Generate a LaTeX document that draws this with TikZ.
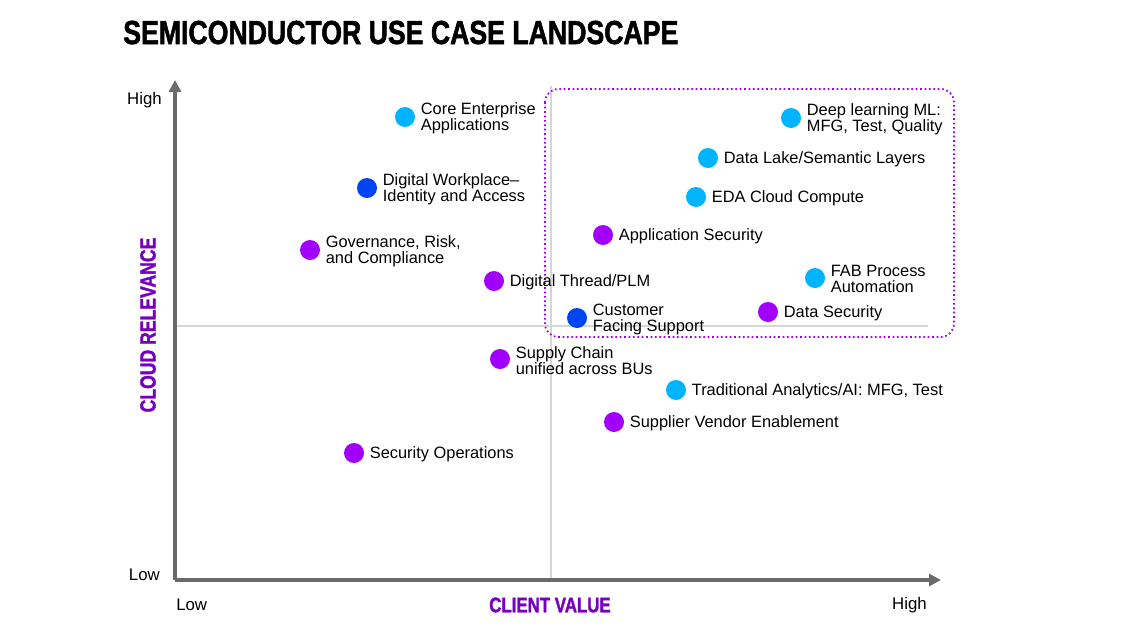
\documentclass[tikz,border=0pt]{standalone}
\usepackage{fontspec}
\setmainfont{Liberation Sans}
\newfontfamily\titlefont{Liberation Sans}[FakeStretch=0.80, BoldFeatures={FakeBold=1.5}]
\usepackage{tikz}
\usetikzlibrary{arrows.meta}
\definecolor{skyblue}{HTML}{00B4FF}
\definecolor{deepblue}{HTML}{0046F0}
\definecolor{violet}{HTML}{A100FF}
\definecolor{darkviolet}{HTML}{7500C0}
\definecolor{axisgrey}{HTML}{6A6A6A}
\definecolor{gridgrey}{HTML}{D6D6D6}
\tikzset{
    dot/.style={circle, fill, inner sep=0pt, minimum size=15}, % point of a use case
    usecase/.style={anchor=west, align=left, inner sep=0pt, font=\fontsize{12.3}{12}\selectfont}, % its label
    axis/.style={axisgrey, line width=2.6, -{Triangle[length=9, width=9]}},
    axislabel/.style={font=\fontsize{12.6}{13}\selectfont, inner sep=0pt}
}
\begin{document}
\begin{tikzpicture}[x=0.75pt, y=-0.75pt]
            \useasboundingbox (0,0) rectangle (1128,632);

            % title
            \node[anchor=base west, inner sep=0pt, font=\titlefont\bfseries\fontsize{25}{28}\selectfont]
                (title) at (123,44) {SEMICONDUCTOR USE CASE LANDSCAPE};

            % quadrant lines
            \coordinate (origin) at (175,580);
            \coordinate (ytop) at (175,80);
            \coordinate (xend) at (941,580);
            \coordinate (midtop) at (551,86);
            \coordinate (midbot) at (551,580);
            \coordinate (midleft) at (175,326);
            \coordinate (midright) at (928,326);
            \draw[gridgrey, line width=1.2] (midtop) -- (midbot);
            \draw[gridgrey, line width=1.2] (midleft) -- (midright);

            % high value area
            \draw[violet, line width=1.3, dotted, rounded corners=10] (545,89) rectangle (954,337);

            % axes
            \draw[axis] (origin) -- (ytop);
            \draw[axis] (origin) -- (xend);

            \node[axislabel, anchor=east] (yhigh) at (162,100) {High};
            \node[axislabel, anchor=east] (ylow) at (160,575) {Low};
            \node[axislabel, anchor=west] (xlow) at (176,605) {Low};
            \node[axislabel, anchor=east] (xhigh) at (927,605) {High};
            \node[inner sep=0pt, text=darkviolet, font=\titlefont\bfseries\fontsize{15.8}{16}\selectfont]
                (xname) at (550,605) {CLIENT VALUE};
            \node[inner sep=0pt, text=darkviolet, rotate=90, font=\titlefont\bfseries\fontsize{16.5}{16}\selectfont]
                (yname) at (148,325) {CLOUD RELEVANCE};

            % use cases
            \foreach \n / \x / \y / \c / \labelText in {
                core/405/117/skyblue/{Core Enterprise\\Applications},
                workplace/367/188/deepblue/{Digital Workplace--\\Identity and Access},
                governance/310/250/violet/{Governance, Risk,\\and Compliance},
                thread/494/281/violet/{Digital Thread/PLM},
                customer/577/318/deepblue/{Customer\\Facing Support},
                supply/500/359/violet/{Supply Chain\\unified across BUs},
                analytics/676/390/skyblue/{Traditional Analytics/AI: MFG, Test},
                supplier/614/422/violet/{Supplier Vendor Enablement},
                secops/354/453/violet/{Security Operations},
                deep/791/118/skyblue/{Deep learning ML:\\MFG, Test, Quality},
                lake/708/158/skyblue/{Data Lake/Semantic Layers},
                eda/696/197/skyblue/{EDA Cloud Compute},
                appsec/603/235/violet/{Application Security},
                fab/815/278/skyblue/{FAB Process\\Automation},
                datasec/768/312/violet/{Data Security}
            } {
                \node[dot, fill=\c] (d\n) at (\x,\y) {};
                \node[usecase] (l\n) at ([xshift=4, yshift=-1]d\n.east) {\labelText};
            }

        \end{tikzpicture}
\end{document}
